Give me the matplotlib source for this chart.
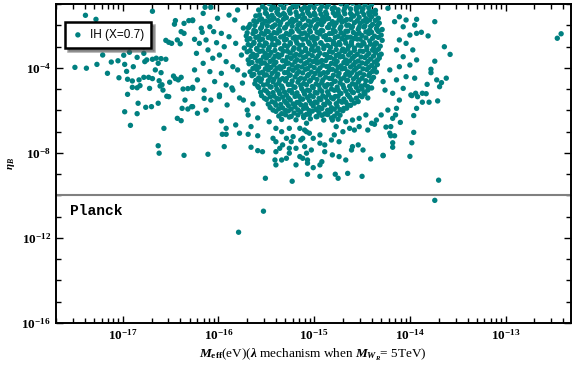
import matplotlib
matplotlib.use("Agg")
import matplotlib.pyplot as plt
import numpy as np

plt.rcParams['font.family'] = 'serif'
plt.rcParams['font.serif'] = ['Liberation Serif', 'DejaVu Serif']
plt.rcParams['font.weight'] = 'bold'
plt.rcParams['mathtext.fontset'] = 'custom'
plt.rcParams['mathtext.rm'] = 'Liberation Serif:bold'
plt.rcParams['mathtext.it'] = 'Liberation Serif:italic:bold'
plt.rcParams['mathtext.bf'] = 'Liberation Serif:bold'

# points as (log10 M_eff, log10 eta_B)
left_pts = [
    (-17.39,-1.52),(-17.28,-1.71),(-16.69,-1.33),(-16.45,-1.77),(-16.46,-1.94),(-16.31,-1.77),
    (-16.27,-1.77),(-16.36,-1.90),(-16.39,-2.29),(-16.36,-2.37),(-17.21,-3.39),(-17.27,-3.83),
    (-17.50,-3.97),(-17.38,-4.01),(-17.12,-3.72),(-17.05,-3.66),(-16.98,-3.83),(-16.99,-3.40),
    (-16.93,-3.26),(-16.85,-3.50),(-16.78,-3.31),(-16.77,-3.70),(-16.75,-3.62),(-16.69,-3.59),
    (-16.65,-3.54),(-16.63,-3.78),(-16.60,-3.56),(-16.55,-3.59),(-16.55,-2.70),(-16.52,-2.79),
    (-16.49,-2.84),(-16.43,-2.68),(-16.40,-2.86),(-17.16,-4.25),(-17.04,-4.46),(-16.96,-4.16),
    (-16.95,-4.53),(-16.89,-3.94),(-16.90,-4.61),(-16.90,-4.91),(-16.85,-4.93),(-16.82,-4.83),
    (-16.95,-5.24),(-16.83,-4.56),(-16.78,-4.44),(-16.73,-4.44),(-16.72,-4.96),(-16.69,-4.50),
    (-16.66,-4.09),(-16.60,-4.22),(-16.62,-4.60),(-16.59,-4.79),(-16.58,-5.04),(-16.61,-4.85),
    (-16.54,-5.33),(-16.52,-5.35),(-16.51,-4.67),(-16.47,-4.38),(-16.45,-4.50),(-16.42,-4.56),
    (-16.39,-4.44),(-16.37,-4.99),(-16.32,-4.97),(-16.27,-4.91),(-16.35,-5.51),(-16.32,-5.93),
    (-16.38,-5.90),(-16.28,-5.82),(-16.84,-5.66),(-16.76,-5.85),(-16.70,-5.82),(-16.63,-5.66),
    (-16.98,-6.06),(-16.85,-6.15),(-16.43,-6.37),(-16.39,-6.48),(-16.92,-6.70),(-16.57,-6.84),
    (-16.63,-7.66),(-16.62,-8.01),(-16.36,-8.11),(-16.78,-3.00),
    (-16.16,-1.43),(-16.08,-1.14),(-16.14,-1.14),(-16.01,-1.66),(-16.27,-1.74),(-16.18,-2.13),
    (-16.09,-2.06),(-16.05,-2.29),(-15.97,-2.37),(-16.17,-2.32),(-16.25,-2.65),(-16.13,-2.68),
    (-16.20,-2.84),(-16.02,-2.81),(-15.89,-2.53),(-15.94,-3.00),(-16.11,-3.15),(-16.23,-3.31),
    (-15.99,-3.39),(-16.06,-3.54),(-16.16,-3.78),(-15.92,-3.70),(-16.25,-4.09),(-16.09,-4.17),
    (-15.97,-4.25),(-15.85,-3.94),(-16.22,-4.56),(-16.04,-4.64),(-15.92,-4.80),(-16.15,-5.04),
    (-16.27,-4.96),(-15.99,-5.27),(-15.85,-5.04),(-15.82,-2.84),(-15.83,-1.74),(-15.80,-1.27),
    (-15.89,-1.51),(-15.74,-2.12),(-15.76,-3.39),(-15.73,-4.33),(-15.78,-5.41),(-15.70,-5.98),
    (-15.91,-5.74),(-15.74,-5.51),(-15.64,-5.69),(-15.69,-6.21),(-15.59,-6.35),(-15.80,-4.09),
    (-15.75,-4.71),(-15.86,-4.94),
]

core_pts = [
    (-15.54,-1.11),(-15.47,-0.97),(-15.42,-1.15),(-15.35,-1.02),(-15.29,-0.94),(-15.22,-1.07),
    (-15.17,-0.99),(-15.10,-1.14),(-15.04,-1.04),(-14.97,-0.96),(-14.92,-1.10),(-14.85,-1.01),
    (-14.79,-1.16),(-14.72,-0.98),(-14.66,-1.08),(-14.60,-0.95),(-14.53,-1.12),(-14.47,-1.03),
    (-14.40,-1.00),
    (-15.58,-1.27),(-15.51,-1.41),(-15.45,-1.25),(-15.39,-1.36),(-15.32,-1.44),(-15.26,-1.30),
    (-15.19,-1.38),(-15.13,-1.24),(-15.07,-1.34),(-15.00,-1.42),(-14.94,-1.28),(-14.88,-1.37),
    (-14.81,-1.23),(-14.75,-1.40),(-14.69,-1.31),(-14.62,-1.43),(-14.56,-1.26),(-14.50,-1.35),
    (-14.43,-1.39),(-14.36,-1.29),
    (-15.61,-1.55),(-15.55,-1.69),(-15.48,-1.58),(-15.42,-1.66),(-15.36,-1.52),(-15.29,-1.63),
    (-15.23,-1.71),(-15.16,-1.57),(-15.10,-1.65),(-15.04,-1.54),(-14.97,-1.70),(-14.91,-1.60),
    (-14.85,-1.67),(-14.78,-1.53),(-14.72,-1.64),(-14.66,-1.72),(-14.59,-1.56),(-14.53,-1.62),
    (-14.46,-1.68),(-14.40,-1.59),(-14.33,-1.66),
    (-15.67,-1.95),(-15.60,-1.83),(-15.54,-1.92),(-15.47,-1.80),(-15.41,-1.97),(-15.35,-1.86),
    (-15.28,-1.94),(-15.22,-1.82),(-15.15,-1.90),(-15.09,-1.99),(-15.03,-1.85),(-14.96,-1.93),
    (-14.90,-1.81),(-14.84,-1.96),(-14.77,-1.88),(-14.71,-1.84),(-14.64,-1.98),(-14.58,-1.87),
    (-14.52,-1.91),(-14.45,-1.82),(-14.39,-1.95),(-14.32,-1.89),
    (-15.69,-2.11),(-15.63,-2.23),(-15.56,-2.14),(-15.50,-2.25),(-15.44,-2.08),(-15.37,-2.19),
    (-15.31,-2.12),(-15.24,-2.26),(-15.18,-2.16),(-15.12,-2.10),(-15.05,-2.22),(-14.99,-2.13),
    (-14.93,-2.24),(-14.86,-2.09),(-14.80,-2.20),(-14.73,-2.15),(-14.67,-2.27),(-14.61,-2.12),
    (-14.54,-2.18),(-14.48,-2.07),(-14.42,-2.21),(-14.35,-2.14),(-14.29,-2.19),
    (-15.71,-2.49),(-15.64,-2.38),(-15.58,-2.52),(-15.52,-2.41),(-15.45,-2.47),(-15.39,-2.36),
    (-15.32,-2.50),(-15.26,-2.43),(-15.20,-2.54),(-15.13,-2.39),(-15.07,-2.46),(-15.01,-2.53),
    (-14.94,-2.40),(-14.88,-2.48),(-14.81,-2.37),(-14.75,-2.51),(-14.69,-2.44),(-14.62,-2.55),
    (-14.56,-2.42),(-14.50,-2.47),(-14.43,-2.38),(-14.37,-2.50),(-14.30,-2.45),
    (-15.70,-2.68),(-15.63,-2.79),(-15.57,-2.70),(-15.51,-2.82),(-15.44,-2.66),(-15.38,-2.76),
    (-15.31,-2.69),(-15.25,-2.81),(-15.19,-2.72),(-15.12,-2.65),(-15.06,-2.78),(-15.00,-2.71),
    (-14.93,-2.83),(-14.87,-2.67),(-14.80,-2.75),(-14.74,-2.80),(-14.68,-2.68),(-14.61,-2.77),
    (-14.55,-2.64),(-14.49,-2.79),(-14.42,-2.73),(-14.36,-2.82),(-14.29,-2.70),
    (-15.73,-3.06),(-15.66,-2.95),(-15.60,-3.08),(-15.53,-2.97),(-15.47,-3.04),(-15.41,-2.93),
    (-15.34,-3.10),(-15.28,-2.99),(-15.21,-3.05),(-15.15,-2.94),(-15.09,-3.09),(-15.02,-3.00),
    (-14.96,-3.07),(-14.90,-2.96),(-14.83,-3.03),(-14.77,-2.92),(-14.70,-3.11),(-14.64,-2.98),
    (-14.58,-3.06),(-14.51,-2.95),(-14.45,-3.02),(-14.38,-3.08),(-14.31,-2.97),
    (-15.70,-3.24),(-15.64,-3.35),(-15.57,-3.22),(-15.51,-3.32),(-15.45,-3.27),(-15.38,-3.37),
    (-15.32,-3.21),(-15.25,-3.30),(-15.19,-3.36),(-15.13,-3.25),(-15.06,-3.33),(-15.00,-3.20),
    (-14.94,-3.31),(-14.87,-3.38),(-14.81,-3.26),(-14.74,-3.34),(-14.68,-3.23),(-14.62,-3.29),
    (-14.55,-3.36),(-14.49,-3.22),(-14.43,-3.32),(-14.36,-3.27),(-14.30,-3.35),
    (-15.69,-3.62),(-15.62,-3.51),(-15.56,-3.64),(-15.50,-3.53),(-15.43,-3.60),(-15.37,-3.49),
    (-15.30,-3.66),(-15.24,-3.55),(-15.18,-3.61),(-15.11,-3.50),(-15.05,-3.63),(-14.98,-3.56),
    (-14.92,-3.65),(-14.86,-3.52),(-14.79,-3.59),(-14.73,-3.48),(-14.67,-3.62),(-14.60,-3.54),
    (-14.54,-3.67),(-14.47,-3.51),(-14.41,-3.58),(-14.34,-3.63),
    (-15.68,-3.80),(-15.61,-3.91),(-15.55,-3.78),(-15.49,-3.88),(-15.42,-3.83),(-15.36,-3.94),
    (-15.29,-3.79),(-15.23,-3.86),(-15.17,-3.92),(-15.10,-3.81),(-15.04,-3.89),(-14.97,-3.77),
    (-14.91,-3.87),(-14.85,-3.93),(-14.78,-3.82),(-14.72,-3.90),(-14.66,-3.79),(-14.59,-3.85),
    (-14.53,-3.92),(-14.46,-3.80),(-14.40,-3.88),(-14.34,-3.84),
    (-15.67,-4.18),(-15.60,-4.07),(-15.54,-4.20),(-15.48,-4.09),(-15.41,-4.15),(-15.35,-4.05),
    (-15.28,-4.21),(-15.22,-4.11),(-15.16,-4.17),(-15.09,-4.06),(-15.03,-4.19),(-14.96,-4.12),
    (-14.90,-4.22),(-14.84,-4.08),(-14.77,-4.14),(-14.71,-4.04),(-14.65,-4.18),(-14.58,-4.10),
    (-14.52,-4.23),(-14.45,-4.07),(-14.39,-4.16),
    (-15.65,-4.36),(-15.58,-4.47),(-15.52,-4.34),(-15.46,-4.44),(-15.39,-4.39),(-15.33,-4.50),
    (-15.26,-4.35),(-15.20,-4.42),(-15.14,-4.48),(-15.07,-4.37),(-15.01,-4.45),(-14.94,-4.33),
    (-14.88,-4.43),(-14.82,-4.49),(-14.75,-4.38),(-14.69,-4.46),(-14.63,-4.35),(-14.56,-4.41),
    (-14.50,-4.48),(-14.43,-4.36),(-14.38,-4.44),
    (-15.62,-4.74),(-15.56,-4.63),(-15.49,-4.76),(-15.43,-4.65),(-15.37,-4.71),(-15.30,-4.61),
    (-15.24,-4.77),(-15.17,-4.67),(-15.11,-4.73),(-15.05,-4.62),(-14.98,-4.75),(-14.92,-4.68),
    (-14.86,-4.78),(-14.79,-4.64),(-14.73,-4.70),(-14.66,-4.60),(-14.60,-4.74),(-14.54,-4.66),
    (-14.47,-4.79),(-14.41,-4.63),
    (-15.58,-4.92),(-15.52,-5.03),(-15.45,-4.90),(-15.39,-5.00),(-15.33,-4.95),(-15.26,-5.06),
    (-15.20,-4.91),(-15.13,-4.98),(-15.07,-5.04),(-15.01,-4.93),(-14.94,-5.01),(-14.88,-4.89),
    (-14.82,-4.99),(-14.75,-5.05),(-14.69,-4.94),(-14.62,-5.02),(-14.56,-4.91),(-14.50,-4.97),
    (-14.44,-5.04),
    (-15.55,-5.30),(-15.48,-5.19),(-15.42,-5.32),(-15.36,-5.21),(-15.29,-5.27),(-15.23,-5.17),
    (-15.16,-5.33),(-15.10,-5.23),(-15.04,-5.29),(-14.97,-5.18),(-14.91,-5.31),(-14.85,-5.24),
    (-14.78,-5.34),(-14.72,-5.20),(-14.65,-5.26),(-14.59,-5.16),(-14.52,-5.30),(-14.47,-5.22),
    (-15.50,-5.48),(-15.44,-5.59),(-15.37,-5.46),(-15.31,-5.56),(-15.25,-5.51),(-15.18,-5.62),
    (-15.12,-5.47),(-15.05,-5.54),(-14.99,-5.60),(-14.93,-5.49),(-14.86,-5.57),(-14.80,-5.45),
    (-14.74,-5.55),(-14.67,-5.61),(-14.61,-5.50),(-14.54,-5.58),
    (-15.46,-5.86),(-15.40,-5.75),(-15.33,-5.88),(-15.27,-5.77),(-15.20,-5.83),(-15.14,-5.73),
    (-15.08,-5.89),(-15.01,-5.79),(-14.95,-5.85),(-14.89,-5.74),(-14.82,-5.87),(-14.76,-5.80),
    (-14.69,-5.90),(-14.62,-5.76),
    (-15.40,-6.04),(-15.34,-6.15),(-15.27,-6.02),(-15.21,-6.12),(-15.14,-6.07),(-15.08,-6.18),
    (-15.02,-6.03),(-14.95,-6.10),(-14.89,-6.16),(-14.83,-6.05),(-14.76,-6.13),(-14.70,-6.01),
    (-15.34,-6.42),(-15.26,-6.31),(-15.19,-6.44),(-15.11,-6.33),(-15.04,-6.39),(-14.97,-6.29),
    (-14.90,-6.45),(-14.82,-6.35),(-14.75,-6.41),
]

# extra rows of the solid core, between the rows above
fill_rows = [
    ([-15.51,-15.44,-15.38,-15.32,-15.25,-15.19,-15.13,-15.06,-15.00,-14.94,-14.87,-14.81,-14.75,-14.68,-14.62,-14.56,-14.49,-14.43],
     [-1.22,-1.15,-1.24,-1.17,-1.21,-1.13,-1.25,-1.19,-1.16,-1.23,-1.14,-1.20,-1.26,-1.18,-1.22,-1.15,-1.21,-1.17]),
    ([-15.57,-15.50,-15.44,-15.38,-15.31,-15.25,-15.18,-15.12,-15.06,-14.99,-14.93,-14.87,-14.80,-14.74,-14.68,-14.61,-14.55,-14.48,-14.42,-14.36],
     [-1.50,-1.44,-1.52,-1.45,-1.49,-1.42,-1.53,-1.47,-1.43,-1.51,-1.46,-1.48,-1.41,-1.54,-1.45,-1.50,-1.43,-1.49,-1.52,-1.46]),
    ([-15.63,-15.57,-15.51,-15.44,-15.38,-15.32,-15.25,-15.19,-15.12,-15.06,-15.00,-14.93,-14.87,-14.81,-14.74,-14.68,-14.62,-14.55,-14.49,-14.42,-14.36],
     [-1.78,-1.72,-1.80,-1.73,-1.77,-1.70,-1.81,-1.75,-1.71,-1.79,-1.74,-1.76,-1.69,-1.82,-1.73,-1.78,-1.71,-1.77,-1.80,-1.74,-1.76]),
    ([-15.68,-15.62,-15.55,-15.49,-15.43,-15.36,-15.30,-15.23,-15.17,-15.11,-15.04,-14.98,-14.92,-14.85,-14.79,-14.72,-14.66,-14.60,-14.53,-14.47,-14.41,-14.34],
     [-2.06,-2.00,-2.08,-2.01,-2.05,-1.98,-2.09,-2.03,-1.99,-2.07,-2.02,-2.04,-1.97,-2.10,-2.01,-2.06,-1.99,-2.05,-2.08,-2.02,-2.04,-2.00]),
    ([-15.70,-15.61,-15.55,-15.48,-15.42,-15.36,-15.29,-15.23,-15.16,-15.10,-15.04,-14.97,-14.91,-14.84,-14.78,-14.72,-14.65,-14.59,-14.53,-14.46,-14.40,-14.33],
     [-2.34,-2.28,-2.36,-2.29,-2.33,-2.26,-2.37,-2.31,-2.27,-2.35,-2.30,-2.32,-2.25,-2.38,-2.29,-2.34,-2.27,-2.33,-2.36,-2.30,-2.32,-2.28]),
    ([-15.67,-15.61,-15.54,-15.48,-15.41,-15.35,-15.29,-15.22,-15.16,-15.09,-15.03,-14.97,-14.90,-14.84,-14.78,-14.71,-14.65,-14.58,-14.52,-14.46,-14.39,-14.33],
     [-2.62,-2.56,-2.64,-2.57,-2.61,-2.54,-2.65,-2.59,-2.55,-2.63,-2.58,-2.60,-2.53,-2.66,-2.57,-2.62,-2.55,-2.61,-2.64,-2.58,-2.60,-2.56]),
    ([-15.69,-15.63,-15.57,-15.50,-15.44,-15.37,-15.31,-15.25,-15.18,-15.12,-15.05,-14.99,-14.93,-14.86,-14.80,-14.73,-14.67,-14.61,-14.54,-14.48,-14.41,-14.35],
     [-2.90,-2.84,-2.92,-2.85,-2.89,-2.82,-2.93,-2.87,-2.83,-2.91,-2.86,-2.88,-2.81,-2.94,-2.85,-2.90,-2.83,-2.89,-2.92,-2.86,-2.88,-2.84]),
    ([-15.67,-15.60,-15.54,-15.48,-15.41,-15.35,-15.28,-15.22,-15.16,-15.09,-15.03,-14.96,-14.90,-14.84,-14.77,-14.71,-14.65,-14.58,-14.52,-14.45,-14.39,-14.33],
     [-3.18,-3.12,-3.20,-3.13,-3.17,-3.10,-3.21,-3.15,-3.11,-3.19,-3.14,-3.16,-3.09,-3.22,-3.13,-3.18,-3.11,-3.17,-3.20,-3.14,-3.16,-3.12]),
    ([-15.66,-15.60,-15.53,-15.47,-15.41,-15.34,-15.28,-15.21,-15.15,-15.09,-15.02,-14.96,-14.89,-14.83,-14.77,-14.70,-14.64,-14.58,-14.51,-14.45,-14.38,-14.32],
     [-3.46,-3.40,-3.48,-3.41,-3.45,-3.38,-3.49,-3.43,-3.39,-3.47,-3.42,-3.44,-3.37,-3.50,-3.41,-3.46,-3.39,-3.45,-3.48,-3.42,-3.44,-3.40]),
    ([-15.65,-15.59,-15.52,-15.46,-15.40,-15.33,-15.27,-15.20,-15.14,-15.08,-15.01,-14.95,-14.88,-14.82,-14.76,-14.69,-14.63,-14.57,-14.50,-14.44,-14.37],
     [-3.74,-3.68,-3.76,-3.69,-3.73,-3.66,-3.77,-3.71,-3.67,-3.75,-3.70,-3.72,-3.65,-3.78,-3.69,-3.74,-3.67,-3.73,-3.76,-3.70,-3.72]),
    ([-15.64,-15.58,-15.51,-15.45,-15.39,-15.32,-15.26,-15.19,-15.13,-15.07,-15.00,-14.94,-14.87,-14.81,-14.75,-14.68,-14.62,-14.56,-14.49,-14.43,-14.37],
     [-4.02,-3.96,-4.04,-3.97,-4.01,-3.94,-4.05,-3.99,-3.95,-4.03,-3.98,-4.00,-3.93,-4.06,-3.97,-4.02,-3.95,-4.01,-4.04,-3.98,-4.00]),
    ([-15.63,-15.57,-15.50,-15.44,-15.38,-15.31,-15.25,-15.18,-15.12,-15.06,-14.99,-14.93,-14.86,-14.80,-14.74,-14.67,-14.61,-14.55,-14.48,-14.42],
     [-4.30,-4.24,-4.32,-4.25,-4.29,-4.22,-4.33,-4.27,-4.23,-4.31,-4.26,-4.28,-4.21,-4.34,-4.25,-4.30,-4.23,-4.29,-4.32,-4.26]),
    ([-15.61,-15.55,-15.48,-15.42,-15.36,-15.29,-15.23,-15.16,-15.10,-15.04,-14.97,-14.91,-14.84,-14.78,-14.72,-14.65,-14.59,-14.53,-14.46,-14.40],
     [-4.58,-4.52,-4.60,-4.53,-4.57,-4.50,-4.61,-4.55,-4.51,-4.59,-4.54,-4.56,-4.49,-4.62,-4.53,-4.58,-4.51,-4.57,-4.60,-4.54]),
    ([-15.59,-15.53,-15.46,-15.40,-15.34,-15.27,-15.21,-15.14,-15.08,-15.02,-14.95,-14.89,-14.82,-14.76,-14.70,-14.63,-14.57,-14.51,-14.44],
     [-4.86,-4.80,-4.88,-4.81,-4.85,-4.78,-4.89,-4.83,-4.79,-4.87,-4.82,-4.84,-4.77,-4.90,-4.81,-4.86,-4.79,-4.85,-4.88]),
    ([-15.56,-15.50,-15.43,-15.37,-15.31,-15.24,-15.18,-15.11,-15.05,-14.99,-14.92,-14.86,-14.79,-14.73,-14.67,-14.60,-14.54,-14.48],
     [-5.14,-5.08,-5.16,-5.09,-5.13,-5.06,-5.17,-5.11,-5.07,-5.15,-5.10,-5.12,-5.05,-5.18,-5.09,-5.14,-5.07,-5.13]),
    ([-15.52,-15.46,-15.39,-15.33,-15.27,-15.20,-15.14,-15.07,-15.01,-14.95,-14.88,-14.82,-14.75,-14.69,-14.63,-14.56,-14.50],
     [-5.42,-5.36,-5.44,-5.37,-5.41,-5.34,-5.45,-5.39,-5.35,-5.43,-5.38,-5.40,-5.33,-5.46,-5.37,-5.42,-5.35]),
    ([-15.48,-15.41,-15.35,-15.29,-15.22,-15.16,-15.09,-15.03,-14.97,-14.90,-14.84,-14.77,-14.71,-14.65,-14.58],
     [-5.70,-5.64,-5.72,-5.65,-5.69,-5.62,-5.73,-5.67,-5.63,-5.71,-5.66,-5.68,-5.61,-5.74,-5.65]),
    ([-15.43,-15.37,-15.30,-15.24,-15.17,-15.11,-15.05,-14.98,-14.92,-14.86,-14.79,-14.73,-14.66],
     [-5.98,-5.92,-6.00,-5.93,-5.97,-5.90,-6.01,-5.95,-5.91,-5.99,-5.94,-5.96,-5.89]),
    ([-15.37,-15.30,-15.24,-15.17,-15.11,-15.05,-14.98,-14.92,-14.86,-14.79,-14.73],
     [-6.26,-6.20,-6.28,-6.21,-6.25,-6.18,-6.29,-6.23,-6.19,-6.27,-6.22]),
]

right_pts = [
    (-14.23,-1.19),(-14.11,-1.59),(-14.04,-1.74),(-14.16,-1.82),(-13.95,-1.98),(-14.07,-2.06),
    (-14.00,-2.45),(-13.93,-2.37),(-14.11,-2.68),(-14.04,-2.84),(-13.97,-3.15),(-14.14,-3.15),
    (-14.07,-3.47),(-13.93,-3.62),(-14.00,-3.86),(-14.11,-3.94),(-14.21,-4.09),(-14.04,-4.41),
    (-13.95,-4.48),(-14.14,-4.56),(-14.28,-4.64),(-14.07,-4.96),(-13.99,-5.27),(-13.92,-5.35),
    (-14.18,-5.19),(-14.26,-5.04),(-14.11,-5.51),(-13.74,-1.82),(-13.64,-3.00),(-13.58,-3.36),
    (-13.62,-4.48),(-13.71,-5.55),(-13.67,-4.69),(-13.69,-4.88),(-13.72,-4.56),(-13.80,-5.61),
    (-13.83,-5.21),(-13.87,-5.61),(-13.93,-5.90),(-13.96,-6.24),(-14.10,-6.56),(-13.96,-7.03),
    (-13.98,-7.52),(-14.00,-8.16),(-14.28,-8.11),(-14.18,-7.52),(-14.18,-7.73),(-14.25,-6.78),
    (-14.20,-6.76),(-14.20,-7.19),(-14.16,-7.19),(-14.15,-6.21),(-14.18,-6.37),(-13.93,-1.71),
    (-13.81,-2.49),(-13.88,-2.32),(-13.74,-3.68),(-13.78,-4.06),(-13.78,-4.22),(-13.82,-4.77),
    (-13.87,-5.19),(-13.94,-5.19),(-13.98,-5.30),(-14.40,-1.36),(-14.34,-2.21),(-14.37,-2.92),
    (-14.32,-3.53),(-14.35,-4.19),(-14.40,-4.94),(-14.44,-5.41),
]

lower_pts = [
    (-16.11,-8.06),(-15.94,-7.70),(-16.22,-6.13),(-16.27,-5.82),(-16.15,-5.43),(-16.08,-5.51),
    (-15.99,-5.35),(-16.13,-5.98),(-15.97,-6.49),(-15.92,-6.84),(-15.96,-7.12),(-15.92,-7.12),
    (-15.82,-6.68),(-15.78,-7.07),(-15.69,-7.12),(-15.66,-6.76),(-15.59,-7.19),(-15.66,-7.73),
    (-15.59,-7.89),(-15.54,-7.94),(-15.41,-8.33),(-15.40,-8.56),(-15.34,-8.33),(-15.29,-8.25),
    (-15.26,-8.01),(-15.19,-8.56),(-15.15,-8.17),(-15.40,-7.94),(-15.36,-7.78),(-15.33,-7.62),
    (-15.26,-7.78),(-15.19,-7.78),(-15.10,-7.70),(-15.24,-7.47),(-15.43,-7.31),(-15.40,-7.47),
    (-15.29,-7.31),(-15.22,-7.23),(-15.12,-7.31),(-15.08,-8.01),(-15.34,-7.00),(-15.26,-6.84),
    (-15.40,-6.84),(-15.47,-6.53),(-15.15,-6.84),(-15.08,-7.00),(-15.07,-8.33),
    (-15.12,-8.25),(-15.07,-8.48),(-15.01,-8.69),(-14.94,-8.56),(-14.92,-8.41),(-14.81,-8.09),
    (-14.74,-8.17),(-14.67,-8.33),(-14.61,-7.86),(-14.60,-7.70),(-14.54,-7.62),(-14.49,-7.86),
    (-14.41,-8.28),(-14.28,-8.13),(-15.03,-7.86),(-15.14,-7.39),(-15.01,-7.31),(-14.94,-7.54),
    (-14.89,-7.62),(-14.89,-7.94),(-14.82,-7.39),(-14.79,-7.15),(-14.74,-7.47),(-14.70,-7.00),
    (-14.63,-6.84),(-14.58,-6.92),(-14.53,-6.76),(-14.44,-6.92),(-14.40,-6.60),(-14.37,-6.65),
    (-14.21,-7.07),(-14.14,-5.90),(-14.23,-5.98),(-14.30,-6.21),(-14.35,-6.45),(-14.46,-6.21),
    (-14.53,-6.37),(-14.60,-6.45),(-14.67,-6.53),(-14.81,-6.45),(-14.77,-6.76),(-14.94,-7.15),
    (-15.05,-7.07),(-15.10,-6.92),(-15.08,-6.60),
    (-15.51,-9.19),(-15.23,-9.33),(-15.07,-9.00),(-14.94,-9.10),(-14.78,-9.00),(-14.75,-9.19),
    (-14.65,-8.96),(-14.50,-9.10),(-13.70,-9.28),
]

outlier_pts = [(-13.74,-10.23),(-15.53,-10.74),(-15.79,-11.73),(-12.46,-2.60),(-12.42,-2.39)]

planck = 1e-10

fill_pts = [p for xs, ys in fill_rows for p in zip(xs, ys)]
pts = np.array(left_pts + core_pts + fill_pts + right_pts + lower_pts + outlier_pts)
m_eff = 10.0 ** pts[:, 0]
eta_b = 10.0 ** pts[:, 1]

fig, ax = plt.subplots(figsize=(5.76, 3.67), dpi=100)
fig.subplots_adjust(left=0.097, right=0.991, top=0.989, bottom=0.120)

ax.scatter(m_eff, eta_b, s=15, color='#008080', edgecolors='none', label='IH (X=0.7)', zorder=3)
ax.axhline(planck, color='#808080', lw=1.5, zorder=2)
ax.text(0.027, 0.35, 'Planck', transform=ax.transAxes, family='Liberation Mono',
        fontweight='bold', fontsize=10.5, va='center', ha='left')

ax.set_xscale('log')
ax.set_yscale('log')
ax.set_xlim(2.0e-18, 4.8e-13)
ax.set_ylim(1e-16, 10 ** -0.99)

ax.set_xticks([1e-17, 1e-16, 1e-15, 1e-14, 1e-13])
ax.xaxis.set_minor_locator(matplotlib.ticker.LogLocator(base=10, subs=np.arange(2, 10), numticks=20))
ax.xaxis.set_minor_formatter(matplotlib.ticker.NullFormatter())
ax.set_yticks([1e-16, 1e-12, 1e-8, 1e-4])
ax.set_yticks([10.0 ** k for k in range(-16, 0) if k % 4], minor=True)
ax.yaxis.set_minor_formatter(matplotlib.ticker.NullFormatter())

ax.tick_params(which='both', direction='in', top=True, right=True, labelsize=9.5, width=1.0)
ax.tick_params(which='major', length=5)
ax.tick_params(which='minor', length=3.5)
for sp in ax.spines.values():
    sp.set_linewidth(1.4)

ax.set_xlabel(r'$M_{\rm eff}$(eV)($\lambda$ mechanism when $M_{W_R}$= 5TeV)', fontsize=9.5, labelpad=3)
ax.set_ylabel(r'$\eta_B$', fontsize=8)
ax.yaxis.set_label_coords(-0.075, 0.5)

leg = ax.legend(loc='upper left', bbox_to_anchor=(0.0175, 0.944), borderaxespad=0,
                fancybox=False, shadow=True, framealpha=1, edgecolor='black',
                prop={'family': 'Liberation Sans', 'weight': 'normal', 'size': 8.5},
                handletextpad=0.5, borderpad=0.6, handlelength=1.0, markerscale=1.0)
leg.get_frame().set_linewidth(1.8)

plt.savefig('out.png', dpi=100)
